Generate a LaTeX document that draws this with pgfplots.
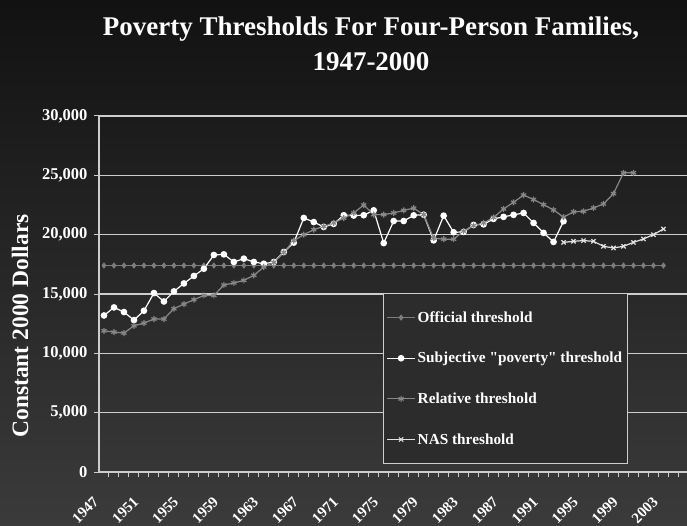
\documentclass[border=0pt]{standalone}
\usepackage{fontspec}
\setmainfont{Liberation Serif}[Ligatures=TeXOff]
\usepackage{pgfplots}
\usepackage{pgfplotstable}
\pgfplotsset{compat=1.18}
\definecolor{offc}{RGB}{125,125,125}
\definecolor{relc}{RGB}{135,135,135}
\definecolor{gridc}{RGB}{205,205,205}
\definecolor{nasc}{RGB}{225,225,225}
\definecolor{legbg}{RGB}{44,44,44}
\pgfplotstableread{
year val
1947 17400
1948 17400
1949 17400
1950 17400
1951 17400
1952 17400
1953 17400
1954 17400
1955 17400
1956 17400
1957 17400
1958 17400
1959 17400
1960 17400
1961 17400
1962 17400
1963 17400
1964 17400
1965 17400
1966 17400
1967 17400
1968 17400
1969 17400
1970 17400
1971 17400
1972 17400
1973 17400
1974 17400
1975 17400
1976 17400
1977 17400
1978 17400
1979 17400
1980 17400
1981 17400
1982 17400
1983 17400
1984 17400
1985 17400
1986 17400
1987 17400
1988 17400
1989 17400
1990 17400
1991 17400
1992 17400
1993 17400
1994 17400
1995 17400
1996 17400
1997 17400
1998 17400
1999 17400
2000 17400
2001 17400
2002 17400
2003 17400
}\official
\pgfplotstableread{
year val
1947 13190
1948 13870
1949 13480
1950 12800
1951 13590
1952 15080
1953 14370
1954 15220
1955 15890
1956 16520
1957 17130
1958 18290
1959 18340
1960 17700
1961 17980
1962 17700
1963 17550
1964 17700
1965 18540
1966 19330
1967 21410
1968 21060
1969 20650
1970 20910
1971 21640
1972 21610
1973 21640
1974 22050
1975 19290
1976 21150
1977 21150
1978 21630
1979 21680
1980 19520
1981 21600
1982 20200
1983 20230
1984 20820
1985 20870
1986 21330
1987 21500
1988 21670
1989 21830
1990 20990
1991 20150
1992 19390
1993 21130
}\subjective
\pgfplotstableread{
year val
1947 11900
1948 11790
1949 11710
1950 12320
1951 12550
1952 12890
1953 12890
1954 13760
1955 14150
1956 14520
1957 14880
1958 14880
1959 15760
1960 15930
1961 16150
1962 16570
1963 17280
1964 17670
1965 18510
1966 19500
1967 20000
1968 20420
1969 20700
1970 20990
1971 21400
1972 21830
1973 22500
1974 21690
1975 21690
1976 21830
1977 22050
1978 22230
1979 21690
1980 19700
1981 19620
1982 19620
1983 20300
1984 20760
1985 20990
1986 21450
1987 22170
1988 22730
1989 23340
1990 22960
1991 22530
1992 22080
1993 21480
1994 21920
1995 21970
1996 22250
1997 22590
1998 23460
1999 25210
2000 25210
}\relative
\pgfplotstableread{
year val
1993 19350
1994 19440
1995 19500
1996 19440
1997 19020
1998 18880
1999 19020
2000 19350
2001 19640
2002 20000
2003 20480
}\nas
\begin{document}
\begin{tikzpicture}[x=1pt,y=1pt]
\shade[top color=black!93, bottom color=black!77] (-99,-53) rectangle (588,472);
\begin{axis}[
  at={(0,0)}, anchor=south west,
  scale only axis, width=588pt, height=356pt,
  xmin=1946.5, xmax=2005.36, ymin=0, ymax=30000,
  axis lines=left,
  axis line style={-, gridc, line width=1.2pt},
  /pgf/number format/assume math mode=true,
  scaled y ticks=false,
  ytick={0,5000,10000,15000,20000,25000,30000},
  yticklabel style={/pgf/number format/1000 sep={,}, font=\bfseries\fontsize{16.5}{16.5}\selectfont, text=white, xshift=-3pt},
  ymajorgrids,
  grid style={gridc, line width=1.2pt},
  tick align=outside,
  major tick length=5pt,
  minor tick length=5pt,
  major y tick style={gridc, line width=1pt},
  major x tick style={draw=none},
  minor x tick style={gridc, line width=1pt},
  xtick={1947,1951,1955,1959,1963,1967,1971,1975,1979,1983,1987,1991,1995,1999,2003},
  xticklabels={1947,1951,1955,1959,1963,1967,1971,1975,1979,1983,1987,1991,1995,1999,2003},
  minor xtick={1947.5,1948.5,...,2005.5},
  xticklabel style={rotate=45, anchor=north east, font=\bfseries\fontsize{15}{15}\selectfont, text=white, xshift=-18pt, yshift=-1.5pt},
  clip=false,
  legend cell align=left,
  legend style={at={(0.483,0.503)}, anchor=north west, fill=legbg, draw=gridc, line width=1pt,
    text=white, font=\bfseries\fontsize{15.3}{15.3}\selectfont, row sep=24.5pt, inner xsep=3pt, inner ysep=16pt},
  legend image code/.code={\draw[mark repeat=2,mark phase=2] plot coordinates {(0pt,0pt) (14pt,0pt) (28pt,0pt)};},
]
\addplot[offc, line width=1pt, mark=diamond*, mark size=2.4pt, mark options={fill=offc}] table[x=year,y=val] {\official};
\addlegendentry{Official threshold}
\addplot[white, line width=1.2pt, mark=*, mark size=2.7pt, mark options={fill=white}] table[x=year,y=val] {\subjective};
\addlegendentry{Subjective "poverty" threshold}
\addplot[relc, line width=1.2pt, mark=asterisk, mark size=3pt] table[x=year,y=val] {\relative};
\addlegendentry{Relative threshold}
\addplot[nasc, line width=1.2pt, mark=x, mark size=3pt] table[x=year,y=val] {\nas};
\addlegendentry{NAS threshold}
\end{axis}
\node[white, font=\bfseries\fontsize{27}{35}\selectfont, align=center] at (272,428) {Poverty Thresholds For Four-Person Families,\\1947-2000};
\node[rotate=90, white, font=\bfseries\fontsize{23.5}{23.5}\selectfont] at (-79,146) {Constant 2000 Dollars};
\pgfresetboundingbox
\useasboundingbox (-99,-53) rectangle (588,472);
\end{tikzpicture}
\end{document}
